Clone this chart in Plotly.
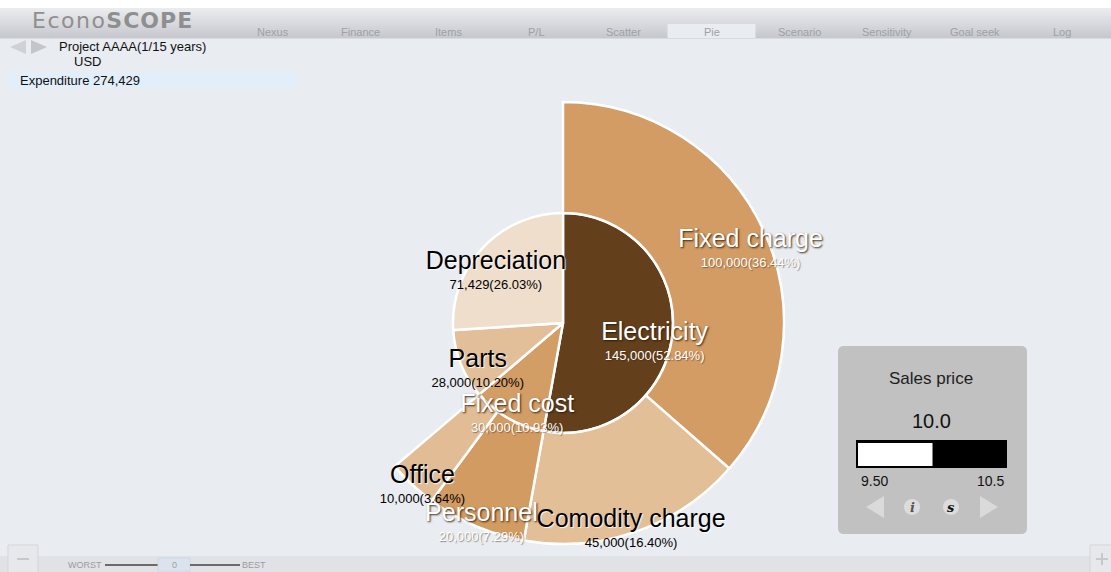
import math
import plotly.graph_objects as go

W, H = 1111, 572

# Expenditure breakdown (USD), inner ring in clockwise order from 12 o'clock
inner_labels = ["Electricity", "Fixed cost", "Parts", "Depreciation"]
inner_values = [145000, 30000, 28000, 71429]
inner_colors = ["#633f1b", "#d39d66", "#e2bf98", "#efdecb"]
inner_text_colors = ["white", "white", "black", "black"]

# Second level items and the inner category each belongs to
outer_parents = ["Electricity", "Electricity", "Fixed cost", "Fixed cost"]
outer_labels = ["Fixed charge", "Comodity charge", "Personnel", "Office"]
outer_values = [100000, 45000, 20000, 10000]
outer_colors = ["#d29c64", "#e3bf97", "#d29b62", "#e2bc94"]
outer_text_colors = ["white", "black", "white", "black"]

tab_labels = ["Nexus", "Finance", "Items", "P/L", "Scatter", "Pie",
              "Scenario", "Sensitivity", "Goal seek", "Log"]
active_tab = "Pie"

project_name = "Project AAAA(1/15 years)"
currency = "USD"

slider_title = "Sales price"
slider_value = 10.0
slider_min = 9.50
slider_max = 10.5

BG = "#e9ecf0"
FONT = "Liberation Sans, Arial, sans-serif"

# pie geometry (pixels); the polar axis runs a little past the outer ring
# so that value labels under the outer slices stay inside the radial range
CX, CY = 563, 323
R_IN, R_OUT = 110, 221
R_AX = 245
R_NAME_IN, R_NAME_OUT = 92, 206
NAME_DROP = 3
VALUE_DROP = 23


def px(x):
    return x / W


def py(y):
    return 1 - y / H


shapes = []
annotations = []


def rect(x0, y0, x1, y1, fill, line=None, lw=0, layer="below"):
    shapes.append(dict(type="rect", xref="paper", yref="paper",
                       x0=px(x0), x1=px(x1), y0=py(y1), y1=py(y0),
                       fillcolor=fill, layer=layer,
                       line=dict(width=lw, color=line or fill)))


def poly(points, fill, layer="below"):
    d = "M " + " L ".join(f"{px(x):.5f},{py(y):.5f}" for x, y in points) + " Z"
    shapes.append(dict(type="path", xref="paper", yref="paper", path=d,
                       fillcolor=fill, line=dict(width=0), layer=layer))


def line(x0, y0, x1, y1, color, width=1):
    shapes.append(dict(type="line", xref="paper", yref="paper",
                       x0=px(x0), x1=px(x1), y0=py(y0), y1=py(y1),
                       line=dict(color=color, width=width), layer="below"))


def text(x, y, s, size=12, color="#111", anchor="center", family=FONT):
    annotations.append(dict(xref="paper", yref="paper", x=px(x), y=py(y),
                            text=s, showarrow=False, xanchor=anchor,
                            yanchor="middle",
                            font=dict(size=size, color=color, family=family)))


def rounded_rect(x0, y0, x1, y1, r, fill):
    pts = [
        ("M", x0 + r, y0), ("L", x1 - r, y0), ("Q", x1, y0, x1, y0 + r),
        ("L", x1, y1 - r), ("Q", x1, y1, x1 - r, y1),
        ("L", x0 + r, y1), ("Q", x0, y1, x0, y1 - r),
        ("L", x0, y0 + r), ("Q", x0, y0, x0 + r, y0),
    ]
    d = ""
    for p in pts:
        cmd, coords = p[0], p[1:]
        xy = [f"{px(coords[i]):.5f},{py(coords[i + 1]):.5f}" for i in range(0, len(coords), 2)]
        d += cmd + " " + " ".join(xy) + " "
    shapes.append(dict(type="path", xref="paper", yref="paper", path=d + "Z",
                       fillcolor=fill, line=dict(width=0), layer="below"))


# ---- header bar with a vertical gradient ----
rect(0, 0, W, 8, "#ffffff")
top_c, bot_c = (234, 235, 238), (199, 201, 207)
n_bands = 15
for i in range(n_bands):
    t = i / (n_bands - 1)
    c = tuple(round(top_c[k] + (bot_c[k] - top_c[k]) * t) for k in range(3))
    rect(0, 8 + i * 2, W, 8 + (i + 1) * 2 + 0.5, "rgb(%d,%d,%d)" % c)

annotations.append(dict(xref="paper", yref="paper", x=px(30), y=py(20),
                        text="<span style='letter-spacing:1.5px'>Econo</span>"
                             "<span style='letter-spacing:1px'><b>SCOPE</b></span>",
                        showarrow=False, xanchor="left", yanchor="middle",
                        font=dict(size=22, color="#8f8f8f",
                                  family="DejaVu Sans, sans-serif")))

tab_x0, tab_step = 273, 87.7
for i, t in enumerate(tab_labels):
    cx = tab_x0 + i * tab_step
    if t == active_tab:
        rect(cx - 44, 24, cx + 44, 38, BG)
    text(cx, 32, t, size=11, color="#9ea0a4")

# ---- left information panel ----
poly([(26, 40), (10, 47), (26, 54)], "#d0d1d4")
poly([(31, 40), (47, 47), (31, 54)], "#c4c5c8")
text(57, 46, project_name, size=13, color="#111", anchor="left")
text(87, 62, currency, size=13, color="#111")
rect(8, 72, 296, 88, "#e3eefb")
total = sum(inner_values)
text(18, 80, f"Expenditure {total:,}", size=13, color="#111", anchor="left")

# ---- bottom scenario bar ----
rect(0, 556, W, H, "#e0e2e6")
rect(8, 545, 38, H + 2, "#e6e8eb", line="#d3d5d9", lw=1)
line(17, 559, 29, 559, "#c6c8cc", 2)
rect(1090, 545, W + 2, H + 2, "#e6e8eb", line="#d3d5d9", lw=1)
line(1096, 559, 1108, 559, "#c6c8cc", 2)
line(1102, 553, 1102, 565, "#c6c8cc", 2)
text(104, 565, "WORST", size=9, color="#9a9ca0", anchor="right")
line(105, 565, 158, 565, "#6a6a6a", 2)
rect(158, 558, 190, 571, "#dbe4ee", line="#cfd8e2", lw=1)
text(174, 565, "0", size=9, color="#9a9ca0")
line(190, 565, 240, 565, "#6a6a6a", 2)
text(240, 565, "BEST", size=9, color="#9a9ca0", anchor="left")

# ---- sales price control ----
rounded_rect(838, 346, 1027, 534, 6, "#c1c1c1")
text(931, 378, slider_title, size=17, color="#1e1e1e")
text(931, 421, f"{slider_value:.1f}", size=20, color="#111")
bar_x0, bar_x1 = 856, 1007
rect(bar_x0, 440, bar_x1, 468, "#000000")
frac = (slider_value - slider_min) / (slider_max - slider_min)
rect(bar_x0 + 2, 443, bar_x0 + 2 + (bar_x1 - bar_x0 - 2) * frac, 466, "#ffffff")
text(874, 481, f"{slider_min:.2f}", size=14, color="#111")
text(990, 481, f"{slider_max:.1f}", size=14, color="#111")
poly([(884, 496), (866, 507), (884, 518)], "#dadada")
poly([(980, 496), (998, 507), (980, 518)], "#dadada")
for cx, ch, col in [(912, "i", "#555"), (951, "s", "#111")]:
    shapes.append(dict(type="circle", xref="paper", yref="paper",
                       x0=px(cx - 8), x1=px(cx + 8), y0=py(515), y1=py(499),
                       fillcolor="#dcdcdc", line=dict(width=0), layer="below"))
    text(cx, 507, f"<b><i>{ch}</i></b>", size=13, color=col,
         family="DejaVu Serif, Liberation Serif, serif")

# ---- nested pie ----
fig = go.Figure()

inner_start = {}
inner_theta, inner_width = [], []
acc = 0.0
for lab, v in zip(inner_labels, inner_values):
    w = v / total * 360
    inner_start[lab] = acc
    inner_theta.append(acc + w / 2)
    inner_width.append(w)
    acc += w

outer_theta, outer_width = [], []
child_acc = dict(inner_start)
for par, v in zip(outer_parents, outer_values):
    w = v / total * 360
    outer_theta.append(child_acc[par] + w / 2)
    outer_width.append(w)
    child_acc[par] += w

fig.add_trace(go.Barpolar(
    theta=inner_theta, width=inner_width, r=[R_IN] * len(inner_values), base=0,
    marker=dict(color=inner_colors, line=dict(color="#ffffff", width=2.5)),
    hoverinfo="skip", showlegend=False))
fig.add_trace(go.Barpolar(
    theta=outer_theta, width=outer_width, r=[R_OUT - R_IN] * len(outer_values), base=R_IN,
    marker=dict(color=outer_colors, line=dict(color="#ffffff", width=2.5)),
    hoverinfo="skip", showlegend=False))

# labels: name on the mid angle, value line just underneath
items = []
for lab, v, th, col in zip(inner_labels, inner_values, inner_theta, inner_text_colors):
    items.append((lab, v, th, R_NAME_IN, col))
for lab, v, th, col in zip(outer_labels, outer_values, outer_theta, outer_text_colors):
    items.append((lab, v, th, R_NAME_OUT, col))


def below(r, th_deg, drop):
    """Polar position of a point `drop` pixels straight below (r, th)."""
    a = math.radians(th_deg)
    x, y = r * math.sin(a), r * math.cos(a) - drop
    return math.hypot(x, y), math.degrees(math.atan2(x, y)) % 360


shadows = {"white": "1px 1px 2px rgba(40,25,10,0.9)",
           "black": "1px 1px 1px rgba(255,255,255,0.9)"}
for col in ["white", "black"]:
    grp = [it for it in items if it[4] == col]
    npos = [below(it[3], it[2], NAME_DROP) for it in grp]
    fig.add_trace(go.Scatterpolar(
        r=[p[0] for p in npos], theta=[p[1] for p in npos],
        text=[it[0] for it in grp], mode="text", textposition="middle center",
        textfont=dict(size=25, color=col, family=FONT, shadow=shadows[col]),
        cliponaxis=False, hoverinfo="skip", showlegend=False))
    vpos = [below(it[3], it[2], NAME_DROP + VALUE_DROP) for it in grp]
    fig.add_trace(go.Scatterpolar(
        r=[p[0] for p in vpos], theta=[p[1] for p in vpos],
        text=[f"{it[1]:,}({it[1] / total * 100:.2f}%)" for it in grp],
        mode="text", textposition="middle center",
        textfont=dict(size=13, color=col, family=FONT,
                      shadow="1px 1px 1px rgba(60,40,20,0.5)" if col == "white" else "none"),
        cliponaxis=False, hoverinfo="skip", showlegend=False))

fig.update_layout(
    width=W, height=H, margin=dict(l=0, r=0, t=0, b=0),
    paper_bgcolor=BG, plot_bgcolor=BG, showlegend=False,
    polar=dict(
        domain=dict(x=[px(CX - R_AX), px(CX + R_AX)], y=[py(CY + R_AX), py(CY - R_AX)]),
        bgcolor="rgba(0,0,0,0)", hole=0,
        radialaxis=dict(visible=False, range=[0, R_AX]),
        angularaxis=dict(visible=False, rotation=90, direction="clockwise"),
    ),
    shapes=shapes, annotations=annotations,
)

fig.write_html("out.html")
